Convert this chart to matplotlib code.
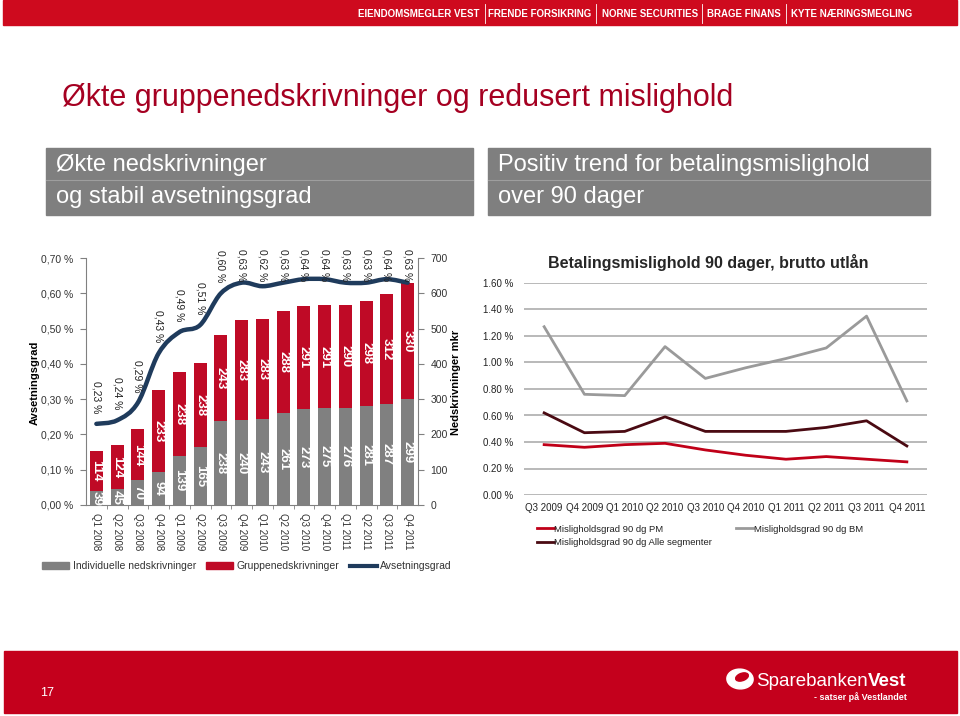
import numpy as np
import matplotlib
matplotlib.use("Agg")
import matplotlib.pyplot as plt
from matplotlib.path import Path
from matplotlib.patches import PathPatch, Patch, Rectangle, Ellipse
from matplotlib.lines import Line2D

plt.rcParams['font.family'] = ['Liberation Sans', 'DejaVu Sans']

# ---- data: left chart ----
quarters = ["Q1 2008", "Q2 2008", "Q3 2008", "Q4 2008", "Q1 2009", "Q2 2009",
            "Q3 2009", "Q4 2009", "Q1 2010", "Q2 2010", "Q3 2010", "Q4 2010",
            "Q1 2011", "Q2 2011", "Q3 2011", "Q4 2011"]
individuelle = [39, 45, 70, 94, 139, 165, 238, 240, 243, 261, 273, 275, 276, 281, 287, 299]
gruppe = [114, 124, 144, 233, 238, 238, 243, 283, 283, 288, 291, 291, 290, 298, 312, 330]
avsetningsgrad = [0.23, 0.24, 0.29, 0.43, 0.49, 0.51, 0.60, 0.63, 0.62, 0.63,
                  0.64, 0.64, 0.63, 0.63, 0.64, 0.63]

# ---- data: right chart ----
quarters_r = ["Q3 2009", "Q4 2009", "Q1 2010", "Q2 2010", "Q3 2010", "Q4 2010",
              "Q1 2011", "Q2 2011", "Q3 2011", "Q4 2011"]
pm = [0.38, 0.36, 0.38, 0.39, 0.34, 0.30, 0.27, 0.29, 0.27, 0.25]
bm = [1.27, 0.76, 0.75, 1.12, 0.88, 0.96, 1.03, 1.11, 1.35, 0.71]
alle = [0.62, 0.47, 0.48, 0.59, 0.48, 0.48, 0.48, 0.51, 0.56, 0.37]

top_links = ["EIENDOMSMEGLER VEST", "FRENDE FORSIKRING", "NORNE SECURITIES",
             "BRAGE FINANS", "KYTE NÆRINGSMEGLING"]

W, H = 960, 716
RED = '#BF0A26'
GRAY = '#808080'
NAVY = '#1F3B5C'


def fx(x):
    return x / W


def fy(y):
    return 1 - y / H


fig = plt.figure(figsize=(9.6, 7.16), dpi=100)

# top and bottom bands
fig.patches.append(Rectangle((fx(3), fy(25)), fx(954), 25 / H, transform=fig.transFigure,
                             color='#CE0A1E', zorder=0))
fig.patches.append(Rectangle((fx(4), fy(713)), fx(953), 62 / H, transform=fig.transFigure,
                             color='#C4001C', zorder=0))
link_x = [419, 540, 650, 744, 852]
for name, x in zip(top_links, link_x):
    fig.text(fx(x), fy(14), name, color='white', fontsize=7, fontweight='bold',
             ha='center', va='center')
for x in [485, 596, 702, 786]:
    fig.add_artist(Line2D([fx(x), fx(x)], [fy(4), fy(23)], color='white', lw=0.6,
                          transform=fig.transFigure))

fig.text(fx(40), fy(693), "17", color='white', fontsize=9, va='center')
fig.patches.append(Ellipse((fx(740), fy(679)), 26 / W, 20 / H, angle=35,
                           transform=fig.transFigure, color='white'))
fig.patches.append(Ellipse((fx(742), fy(677)), 14 / W, 7 / H, angle=35,
                           transform=fig.transFigure, color='#C4001C'))
fig.text(fx(756), fy(681), "Sparebanken", color='white', fontsize=13.5, va='center')
fig.text(fx(906), fy(681), "Vest", color='white', fontsize=13.5, va='center',
         ha='right', fontweight='bold')
fig.text(fx(907), fy(697), "- satser på Vestlandet", color='white', fontsize=6.5,
         va='center', ha='right', fontweight='bold')

# title and section headers
fig.text(fx(62), fy(98), "Økte gruppenedskrivninger og redusert mislighold",
         color='#A50021', fontsize=22, va='center')
for x0, x1, l1, l2 in [(46, 473, "Økte nedskrivninger", "og stabil avsetningsgrad"),
                       (488, 930, "Positiv trend for betalingsmislighold", "over 90 dager")]:
    fig.patches.append(Rectangle((fx(x0), fy(215)), (x1 - x0) / W, 67 / H,
                                 transform=fig.transFigure, color='#7F7F7F', zorder=0))
    fig.add_artist(Line2D([fx(x0), fx(x1)], [fy(180), fy(180)], color='#9E9E9E', lw=0.8,
                          transform=fig.transFigure))
    fig.text(fx(x0 + 10), fy(165), l1, color='white', fontsize=17, va='center')
    fig.text(fx(x0 + 10), fy(197), l2, color='white', fontsize=17, va='center')

# ---- left chart ----
ax = fig.add_axes([fx(86), fy(505), 332 / W, 247 / H])
axl = ax.twinx()
xs = np.arange(len(quarters))
ax.bar(xs, individuelle, width=0.63, color=GRAY)
ax.bar(xs, gruppe, width=0.63, bottom=individuelle, color=RED)
for i in xs:
    ax.text(i, individuelle[i] / 2, str(individuelle[i]), rotation=270, color='white',
            fontsize=9.5, fontweight='bold', ha='center', va='center')
    ax.text(i, individuelle[i] + gruppe[i] / 2, str(gruppe[i]), rotation=270, color='white',
            fontsize=9.5, fontweight='bold', ha='center', va='center')
ax.set_xlim(-0.5, len(quarters) - 0.5)
ax.set_ylim(0, 700)
ax.yaxis.tick_right()
ax.set_yticks(range(0, 701, 100))
ax.set_xticks(xs)
ax.set_xticklabels(quarters, rotation=270, fontsize=7, color='#333333')
ax.set_xticks(xs[:-1] + 0.5, minor=True)
ax.tick_params(axis='x', which='major', length=0, pad=6)
ax.tick_params(axis='x', which='minor', length=3, color=GRAY)
ax.tick_params(axis='y', length=4, color=GRAY, labelsize=7.5, labelcolor='#333333', pad=5)
for s in ['top', 'left']:
    ax.spines[s].set_visible(False)
for s in ['right', 'bottom']:
    ax.spines[s].set_color(GRAY)

axl.yaxis.tick_left()
axl.set_ylim(0, 0.70)
axl.set_yticks(np.arange(0, 0.71, 0.1))
axl.set_yticklabels([f"{v:.2f} %".replace('.', ',') for v in np.arange(0, 0.71, 0.1)])
axl.tick_params(axis='y', length=4, color=GRAY, labelsize=7.5, labelcolor='#333333', pad=5)
for s in ['top', 'right', 'bottom']:
    axl.spines[s].set_visible(False)
axl.spines['left'].set_color(GRAY)

# smoothed line through the points using cubic Bezier segments
pts = np.column_stack([xs, avsetningsgrad]).astype(float)
n = len(pts)
verts = [tuple(pts[0])]
codes = [Path.MOVETO]
for i in range(n - 1):
    p0 = pts[i - 1] if i > 0 else pts[i]
    p1, p2 = pts[i], pts[i + 1]
    p3 = pts[i + 2] if i + 2 < n else pts[i + 1]
    verts += [tuple(p1 + (p2 - p0) / 6), tuple(p2 - (p3 - p1) / 6), tuple(p2)]
    codes += [Path.CURVE4] * 3
axl.add_patch(PathPatch(Path(verts, codes), facecolor='none', edgecolor=NAVY, lw=3.2,
                        capstyle='round'))
for i, v in enumerate(avsetningsgrad):
    axl.text(i, min(v + 0.03, 0.634), f"{v:.2f} %".replace('.', ','), rotation=270,
             fontsize=7.5, color='#222222', ha='center', va='bottom')

fig.text(fx(35), fy(383), "Avsetningsgrad", rotation=90, fontsize=8, fontweight='bold',
         ha='center', va='center')
fig.text(fx(456), fy(382), "Nedskrivninger mkr", rotation=90, fontsize=8,
         fontweight='bold', ha='center', va='center')

handles = [Patch(color=GRAY), Patch(color=RED), Line2D([], [], color=NAVY, lw=3)]
fig.legend(handles, ["Individuelle nedskrivninger", "Gruppenedskrivninger", "Avsetningsgrad"],
           loc='center left', bbox_to_anchor=(fx(33), fy(566)), ncol=3, frameon=False,
           fontsize=7.5, handlelength=2.6, handleheight=0.6, handletextpad=0.3,
           columnspacing=1.0, labelcolor='#333333')

# ---- right chart ----
axr = fig.add_axes([fx(524), fy(495), 403 / W, 212 / H])
xr = np.arange(len(quarters_r))
axr.plot(xr, bm, color='#9A9A9A', lw=2, label="Misligholdsgrad 90 dg BM")
axr.plot(xr, alle, color='#4A0A12', lw=2, label="Misligholdsgrad 90 dg Alle segmenter")
axr.plot(xr, pm, color='#C00018', lw=2, label="Misligholdsgrad 90 dg PM")
axr.set_xlim(-0.5, len(quarters_r) - 0.5)
axr.set_ylim(0, 1.6)
axr.set_yticks(np.arange(0, 1.61, 0.2))
axr.set_yticklabels([f"{v:.2f} %" for v in np.arange(0, 1.61, 0.2)])
axr.set_xticks(xr)
axr.set_xticklabels(quarters_r)
axr.grid(axis='y', color='#A6A6A6', lw=1.1)
axr.set_axisbelow(True)
axr.tick_params(length=0, labelsize=7, labelcolor='#222222')
axr.tick_params(axis='y', pad=8)
axr.tick_params(axis='x', pad=6)
for s in axr.spines.values():
    s.set_visible(False)
fig.text(fx(708), fy(263), "Betalingsmislighold 90 dager, brutto utlån", fontsize=11.5,
         fontweight='bold', ha='center', va='center', color='#262626')
hl = {h.get_label(): h for h in axr.get_lines()}
order = ["Misligholdsgrad 90 dg PM", "Misligholdsgrad 90 dg Alle segmenter",
         "Misligholdsgrad 90 dg BM"]
fig.legend([hl[k] for k in order], order, loc='upper left',
           bbox_to_anchor=(fx(528), fy(516)), ncol=2, frameon=False, fontsize=6.8,
           handlelength=1.8, handletextpad=0.1, columnspacing=2.5, labelspacing=0.5,
           labelcolor='#222222')

fig.savefig("out.png", dpi=100)
